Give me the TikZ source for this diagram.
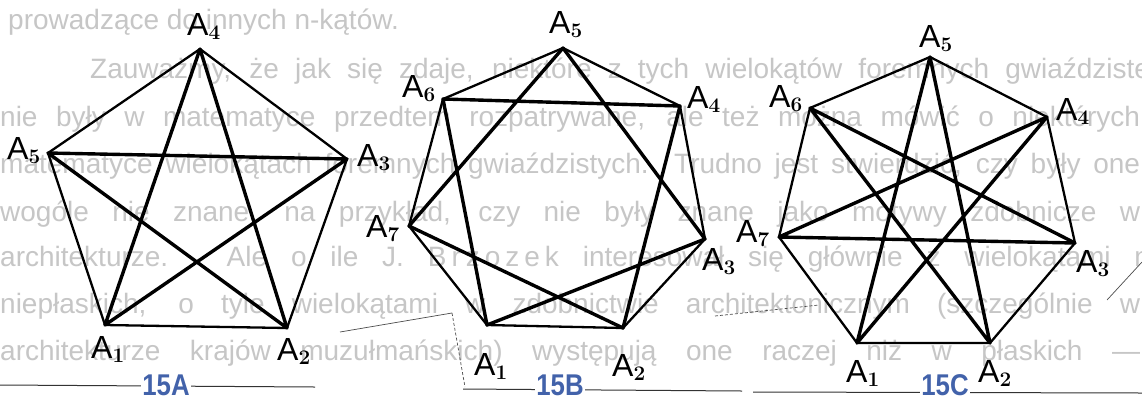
\documentclass[tikz,border=0pt]{standalone}
\usepackage[no-math]{fontspec}
\setmainfont{Liberation Sans}
\usepackage{graphicx}
\usepackage{xcolor}
\usetikzlibrary{positioning,calc}
\definecolor{capblue}{RGB}{66,98,170}
\definecolor{bgtext}{RGB}{198,198,198}
\newcommand{\vA}[1]{A$_{\mathbf{#1}}$}
\newcommand{\figno}[1]{\scalebox{0.86}[1]{#1}}

\begin{document}
\begin{tikzpicture}[
  x=1pt, y=-1pt,
  side/.style={line width=2.3pt, line join=round, line cap=round},
  diag/.style={line width=3.4pt, line join=round, line cap=round},
  vlab/.style={anchor=base west, inner sep=0pt, font=\fontsize{32}{34}\selectfont},
  figcap/.style={inner sep=1pt, fill=white, text=capblue,
                 font=\fontsize{30}{32}\selectfont\bfseries},
  bgline/.style={anchor=base west, inner sep=0pt, text=bgtext,
                 font=\fontsize{28}{30}\selectfont},
  rule/.style={line width=1pt, black!80},
  stray/.style={line width=0.7pt, black!70}
]
\useasboundingbox (0,0) rectangle (1142,400);
\fill[white] (0,0) rectangle (1142,400);

% ======= Page text behind =======
\node[bgline] (t1) at (8,29) {prowadzące do innych n-kątów.};
\node[bgline] (t2) at (90,78) {\makebox[1060pt][s]{Zauważmy, że jak się zdaje, niektóre z tych wielokątów foremnych gwiaździste}};
\node[bgline] (t3) at (0,126) {\makebox[1140pt][s]{nie były w matematyce przedtem rozpatrywane, ale też można mówić o niektórych}};
\node[bgline] (t4) at (0,173) {\makebox[1140pt][s]{matematyce wielokątach foremnych gwiaździstych. Trudno jest stwierdzić, czy były one}};
\node[bgline] (t5) at (0,221) {\makebox[1140pt][s]{wogóle nie znane, na przykład, czy nie były znane jako motywy zdobnicze w}};
\node[bgline] (t6) at (0,266) {\makebox[1150pt][s]{architekturze. Ale o ile J. B\hspace{5pt}r\hspace{5pt}z\hspace{5pt}o\hspace{5pt}z\hspace{5pt}e\hspace{5pt}k interesował się głównie z wielokątami n}};
\node[bgline] (t7) at (0,313) {\makebox[1140pt][s]{niepłaskich, o tyle wielokątami w zdobnictwie architektonicznym (szczególnie w}};
\node[bgline] (t8) at (0,360) {\makebox[1140pt][s]{architekturze krajów muzułmańskich) występują one raczej niż w płaskich —}};

% ======= Rules and marks =======
\draw[rule] (0,385) -- (315,387);
\draw[rule] (463,389) -- (742,391);
\draw[rule] (753,392) -- (1142,393);
\draw[stray] (340,332) -- (452,313);
\draw[stray, densely dashed] (452,313) -- (465,387);
\draw[stray, densely dashed] (715,316) -- (819,305);
\draw[stray] (1107,300) -- (1142,262);

% ======= 15A =======
\coordinate (pa1) at (105,325);
\coordinate (pa2) at (287,328);
\coordinate (pa3) at (347,159);
\coordinate (pa4) at (200,49);
\coordinate (pa5) at (48,153);
\draw[side] (pa1) -- (pa2) -- (pa3) -- (pa4) -- (pa5) -- cycle;
\draw[diag] (pa1) -- (pa3) -- (pa5) -- (pa2) -- (pa4) -- cycle;
\node[vlab] (la1) at (91,358)  {\vA{1}};
\node[vlab] (la2) at (277,360) {\vA{2}};
\node[vlab] (la3) at (357,166) {\vA{3}};
\node[vlab] (la4) at (187,35)  {\vA{4}};
\node[vlab] (la5) at (7,159)   {\vA{5}};
\node[figcap] (capa) at (166,385) {\figno{15A}};

% ======= 15B =======
\coordinate (hb1) at (487,325);
\coordinate (hb2) at (623,328);
\coordinate (hb3) at (705,239);
\coordinate (hb4) at (680,106);
\coordinate (hb5) at (563,48);
\coordinate (hb6) at (443,99);
\coordinate (hb7) at (409,226);
\draw[side] (hb1) -- (hb2) -- (hb3) -- (hb4) -- (hb5) -- (hb6) -- (hb7) -- cycle;
\draw[diag] (hb1) -- (hb3) -- (hb5) -- (hb7) -- (hb2) -- (hb4) -- (hb6) -- cycle;
\node[vlab] (lb1) at (474,375) {\vA{1}};
\node[vlab] (lb2) at (612,376) {\vA{2}};
\node[vlab] (lb3) at (702,270) {\vA{3}};
\node[vlab] (lb4) at (687,108) {\vA{4}};
\node[vlab] (lb5) at (549,33)  {\vA{5}};
\node[vlab] (lb6) at (402,97)  {\vA{6}};
\node[vlab] (lb7) at (366,237) {\vA{7}};
\node[figcap] (capb) at (560,385) {\figno{15B}};

% ======= 15C =======
\coordinate (hc1) at (857,343);
\coordinate (hc2) at (990,343);
\coordinate (hc3) at (1075,243);
\coordinate (hc4) at (1047,117);
\coordinate (hc5) at (930,57);
\coordinate (hc6) at (810,108);
\coordinate (hc7) at (779,237);
\draw[side] (hc1) -- (hc2) -- (hc3) -- (hc4) -- (hc5) -- (hc6) -- (hc7) -- cycle;
\draw[diag] (hc1) -- (hc4) -- (hc7) -- (hc3) -- (hc6) -- (hc2) -- (hc5) -- cycle;
\node[vlab] (lc1) at (846,382)  {\vA{1}};
\node[vlab] (lc2) at (978,382)  {\vA{2}};
\node[vlab] (lc3) at (1076,272) {\vA{3}};
\node[vlab] (lc4) at (1056,120) {\vA{4}};
\node[vlab] (lc5) at (919,47)   {\vA{5}};
\node[vlab] (lc6) at (769,107)  {\vA{6}};
\node[vlab] (lc7) at (736,242)  {\vA{7}};
\node[figcap] (capc) at (945,385) {\figno{15C}};

\end{tikzpicture}
\end{document}
